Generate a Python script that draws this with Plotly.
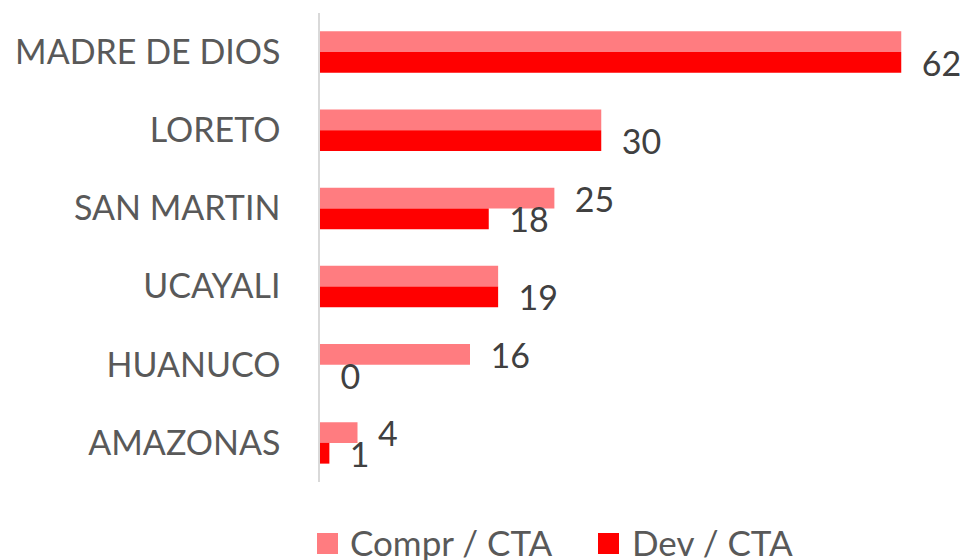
import plotly.graph_objects as go

# Regions (top to bottom) and the two ratios per region
regions = ["MADRE DE DIOS", "LORETO", "SAN MARTIN", "UCAYALI", "HUANUCO", "AMAZONAS"]
compr_cta = [62, 30, 25, 19, 16, 4]
dev_cta = [62, 30, 18, 19, 0, 1]
series_names = ["Compr / CTA", "Dev / CTA"]
series_colors = ["#FF7C80", "#FF0000"]

FONT = "Lato, Carlito, 'Open Sans', sans-serif"
LABEL_SIZE = 34
LEGEND_SIZE = 35

# Compr labels are only written where they differ from the Dev value
compr_text = [f"{c}" if c != d else "" for c, d in zip(compr_cta, dev_cta)]
dev_text = [f"{d}" for d in dev_cta]

fig = go.Figure()
for name, vals, txt, col in [
    (series_names[0], compr_cta, compr_text, series_colors[0]),
    (series_names[1], dev_cta, dev_text, series_colors[1]),
]:
    fig.add_trace(go.Bar(
        y=regions, x=vals, name=name, orientation="h",
        marker=dict(color=col, line=dict(width=0)),
        text=txt, texttemplate="  %{text}", textposition="outside",
        textfont=dict(family=FONT, size=LABEL_SIZE, color="#404040"),
        constraintext="none", cliponaxis=False, showlegend=False,
    ))

# Plot area geometry (pixels) used to place the legend below it
W, H = 960, 560
L, R, T, B = 320, 40, 13, 78
pw, ph = W - L - R, H - T - B

def px_x(x):
    return (x - L) / pw

def px_y(y):
    return (H - B - y) / ph

legend_items = [(317, 348), (598, 630)]
for (sq_x, txt_x), name, col in zip(legend_items, series_names, series_colors):
    fig.add_shape(type="rect", xref="paper", yref="paper",
                  x0=px_x(sq_x), x1=px_x(sq_x + 21),
                  y0=px_y(554), y1=px_y(533),
                  fillcolor=col, line=dict(width=0))
    fig.add_annotation(xref="paper", yref="paper", x=px_x(txt_x), y=px_y(542),
                       xanchor="left", yanchor="middle", showarrow=False,
                       text=name,
                       font=dict(family=FONT, size=LEGEND_SIZE, color="#595959"))

fig.update_layout(
    width=W, height=H,
    margin=dict(l=L, r=R, t=T, b=B),
    paper_bgcolor="white", plot_bgcolor="white",
    barmode="group", bargap=0.47, bargroupgap=0,
    font=dict(family=FONT, size=LABEL_SIZE, color="#595959"),
)
fig.update_xaxes(visible=False, range=[0, 64])
fig.update_yaxes(
    autorange="reversed", showgrid=False, zeroline=False,
    showline=True, linecolor="#D9D9D9", linewidth=1.5,
    ticks="", ticklabelstandoff=31,
    tickfont=dict(family=FONT, size=LABEL_SIZE, color="#595959"),
)

fig.write_html("out.html")
